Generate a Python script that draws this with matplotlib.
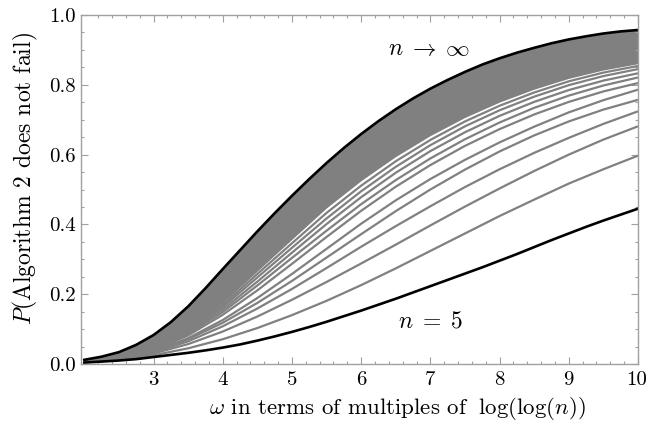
import matplotlib
matplotlib.use("Agg")
import matplotlib.pyplot as plt
import numpy as np

plt.rcParams['font.family'] = 'serif'
plt.rcParams['font.serif'] = ['cmr10']
plt.rcParams['mathtext.fontset'] = 'cm'
plt.rcParams['axes.formatter.use_mathtext'] = True

# omega grids (multiples of log(log(n)))
omega_fine = [2.0, 2.25, 2.5, 2.75, 3.0, 3.25, 3.5, 3.75, 4.0, 4.25, 4.5, 4.75, 5.0, 5.25, 5.5, 5.75,
              6.0, 6.25, 6.5, 6.75, 7.0, 7.25, 7.5, 7.75, 8.0, 8.25, 8.5, 8.75, 9.0, 9.25, 9.5, 9.75, 10.0]
omega = [2.0, 2.5, 3.0, 3.5, 4.0, 4.5, 5.0, 5.5, 6.0, 6.5, 7.0, 7.5, 8.0, 8.5, 9.0, 9.5, 10.0]

# limit curve n -> infinity (black, top)
p_inf = [0.012, 0.021, 0.034, 0.055, 0.083, 0.120, 0.165, 0.217, 0.272, 0.326, 0.380, 0.432, 0.482,
         0.530, 0.576, 0.619, 0.659, 0.696, 0.730, 0.761, 0.789, 0.814, 0.837, 0.858, 0.876, 0.892,
         0.906, 0.919, 0.930, 0.939, 0.947, 0.953, 0.957]
# n = 5 curve (black, bottom)
p_n5 = [0.004, 0.007, 0.010, 0.014, 0.020, 0.026, 0.032, 0.039, 0.047, 0.056, 0.067, 0.079, 0.092,
        0.106, 0.121, 0.137, 0.153, 0.170, 0.187, 0.205, 0.223, 0.241, 0.259, 0.277, 0.296, 0.315,
        0.335, 0.355, 0.374, 0.393, 0.411, 0.428, 0.445]

# intermediate n (gray curves), from low to high
p_g1 = [0.005, 0.011, 0.025, 0.045, 0.071, 0.103, 0.140, 0.181, 0.226, 0.274, 0.324, 0.374, 0.424, 0.471, 0.517, 0.558, 0.597]
p_g2 = [0.005, 0.013, 0.030, 0.057, 0.093, 0.136, 0.184, 0.235, 0.288, 0.342, 0.397, 0.451, 0.503, 0.553, 0.600, 0.643, 0.681]
p_g3 = [0.006, 0.014, 0.033, 0.065, 0.108, 0.159, 0.215, 0.275, 0.336, 0.395, 0.452, 0.507, 0.558, 0.605, 0.648, 0.688, 0.724]
p_g4 = [0.006, 0.015, 0.036, 0.071, 0.118, 0.175, 0.238, 0.305, 0.372, 0.438, 0.500, 0.557, 0.609, 0.655, 0.695, 0.729, 0.757]
p_g5 = [0.006, 0.015, 0.036, 0.074, 0.126, 0.189, 0.258, 0.330, 0.402, 0.469, 0.530, 0.585, 0.635, 0.680, 0.721, 0.756, 0.786]
p_g6 = [0.007, 0.016, 0.039, 0.082, 0.141, 0.211, 0.287, 0.364, 0.439, 0.508, 0.570, 0.625, 0.673, 0.715, 0.751, 0.781, 0.805]
p_g7 = [0.007, 0.017, 0.041, 0.087, 0.149, 0.225, 0.304, 0.382, 0.458, 0.527, 0.589, 0.644, 0.692, 0.734, 0.769, 0.798, 0.821]
p_g8 = [0.007, 0.017, 0.042, 0.091, 0.156, 0.236, 0.319, 0.401, 0.478, 0.548, 0.610, 0.664, 0.711, 0.751, 0.785, 0.812, 0.833]
p_g9 = [0.007, 0.018, 0.044, 0.095, 0.163, 0.248, 0.333, 0.417, 0.495, 0.565, 0.627, 0.681, 0.727, 0.766, 0.799, 0.825, 0.845]
p_g10 = [0.007, 0.018, 0.045, 0.098, 0.169, 0.258, 0.346, 0.433, 0.511, 0.581, 0.642, 0.695, 0.740, 0.778, 0.810, 0.835, 0.854]
p_g11 = [0.008, 0.019, 0.047, 0.102, 0.176, 0.268, 0.359, 0.449, 0.527, 0.596, 0.656, 0.708, 0.752, 0.789, 0.820, 0.844, 0.862]

gray_curves = [p_g1, p_g2, p_g3, p_g4, p_g5, p_g6, p_g7, p_g8, p_g9, p_g10, p_g11]

x_ticks = [3, 4, 5, 6, 7, 8, 9, 10]
x_ticklabels = ['3', '4', '5', '6', '7', '8', '9', '10']
y_ticks = [0.0, 0.2, 0.4, 0.6, 0.8, 1.0]
y_ticklabels = ['0.0', '0.2', '0.4', '0.6', '0.8', '1.0']

GRAY = '#808080'
FRAME = '#a0a0a0'
W, H = 647, 434

fig = plt.figure(figsize=(W / 100, H / 100), dpi=100)
ax = fig.add_axes([81 / W, 1 - 364 / H, (638 - 81) / W, (364 - 15) / H])

# dense band of large-n curves (between the last distinct gray curve and the limit curve)
band_x = list(omega_fine) + list(omega[::-1])
band_y = list(p_inf) + list(p_g11[::-1])
ax.fill(band_x, band_y, color=GRAY, linewidth=0)
for c in gray_curves:
    ax.plot(omega, c, color=GRAY, linewidth=1.6, solid_capstyle='butt')
ax.plot(omega_fine, p_inf, color='black', linewidth=1.9)
ax.plot(omega_fine, p_n5, color='black', linewidth=1.9)

ax.text(6.98, 0.903, r'$n \;\rightarrow\; \infty$', fontsize=17, ha='center', va='center')
ax.text(7.0, 0.123, r'$n \;=\; 5$', fontsize=17, ha='center', va='center')

ax.set_xlim(1.952, 10.0)
ax.set_ylim(0.0, 1.0)
ax.set_xticks(x_ticks)
ax.set_xticklabels(x_ticklabels)
ax.set_yticks(y_ticks)
ax.set_yticklabels(y_ticklabels)
ax.set_xticks(np.arange(2.2, 10.0, 0.2), minor=True)
ax.set_yticks(np.arange(0.05, 1.0, 0.05), minor=True)

for s in ax.spines.values():
    s.set_color(FRAME)
    s.set_linewidth(1.0)
ax.tick_params(which='both', direction='in', top=True, right=True, color=FRAME,
               labelsize=15, labelcolor='black', width=0.8)
ax.tick_params(which='major', length=5)
ax.tick_params(axis='x', which='major', pad=5)
ax.tick_params(axis='y', which='major', pad=4)
ax.tick_params(which='minor', length=2.5)
# keep the last x label inside the canvas, as in the reference
last = ax.get_xticklabels()[-1]
last.set_horizontalalignment('right')
last.set_transform(last.get_transform() + matplotlib.transforms.ScaledTranslation(9 / 100, 0, fig.dpi_scale_trans))

fig.text(397 / W, 1 - 408 / H, r'$\omega$ in terms of multiples of $\;\log(\log(n))$',
         fontsize=16.5, ha='center', va='center')
fig.text(25 / W, 1 - 179 / H, r'$P$(Algorithm 2 does not fail)',
         fontsize=17, ha='center', va='center', rotation=90)

fig.savefig('out.png', dpi=100)
